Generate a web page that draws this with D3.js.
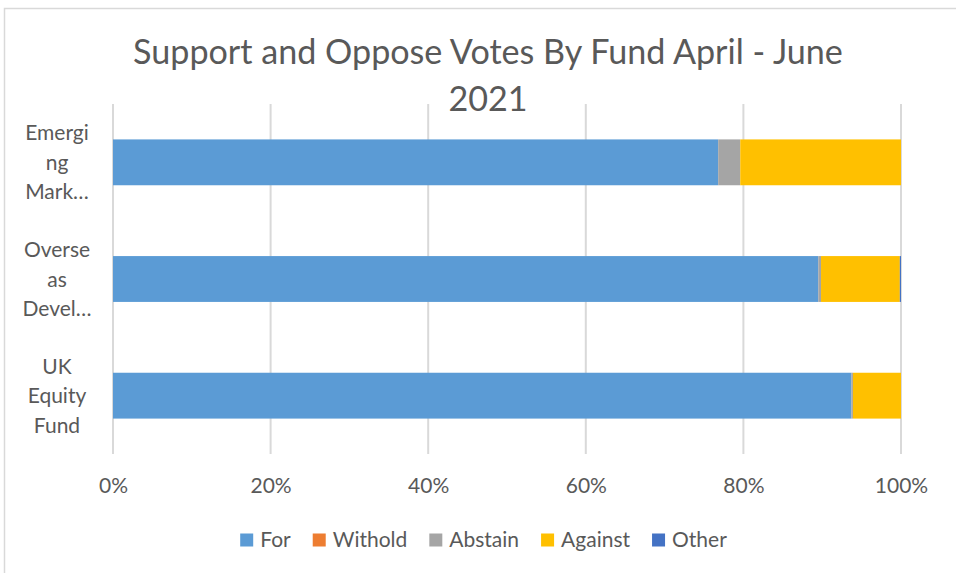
<!DOCTYPE html>
<html>
<head>
<meta charset="utf-8">
<script src="https://cdn.jsdelivr.net/npm/d3@7/dist/d3.min.js"></script>
<style>
  html, body { margin: 0; padding: 0; background: #fff; }
  svg { display: block; }
</style>
</head>
<body>
<div id="chart"></div>
<script>
// Stacked 100% bar chart: vote breakdown per fund

var funds = ['Emerging Markets', 'Overseas Developed', 'UK Equity Fund'];
var fundLabelLines = [['Emergi', 'ng', 'Mark\u2026'], ['Overse', 'as', 'Devel\u2026'], ['UK', 'Equity', 'Fund']];
var seriesNames = ['For', 'Withold', 'Abstain', 'Against', 'Other'];
var seriesColors = ['#5b9bd5', '#ed7d31', '#a5a5a5', '#ffc000', '#4472c4'];

var forVals = [76.8, 89.5, 93.7];
var witholdVals = [0, 0, 0];
var abstainVals = [2.8, 0.35, 0.2];
var againstVals = [20.4, 10.0, 6.1];
var otherVals = [0, 0.15, 0];

var xTicks = [0, 0.2, 0.4, 0.6, 0.8, 1.0];
var titleLines = ['Support and Oppose Votes By Fund April - June', '2021'];

var W = 956, H = 573;
var font = 'Lato, "Open Sans", sans-serif';
var textColor = '#595959';

var svg = d3.select('#chart').append('svg')
    .attr('width', W).attr('height', H);

// chart frame
svg.append('rect')
    .attr('x', 4.5).attr('y', 8.5)
    .attr('width', 970).attr('height', 580)
    .attr('fill', '#fff')
    .attr('stroke', '#d9d9d9').attr('stroke-width', 1.5);

// --- data rows ---
var rows = funds.map(function (f, i) {
    return {
        fund: f,
        For: forVals[i] / 100,
        Withold: witholdVals[i] / 100,
        Abstain: abstainVals[i] / 100,
        Against: againstVals[i] / 100,
        Other: otherVals[i] / 100
    };
});
var stacked = d3.stack().keys(seriesNames)(rows);

// --- scales ---
var x = d3.scaleLinear().domain([0, 1]).range([113, 901]);
var y = d3.scaleBand().domain(funds).range([104, 454]).paddingInner(0.607).paddingOuter(0.3035);

// gridlines
svg.append('g')
    .selectAll('line')
    .data(xTicks)
    .join('line')
    .attr('x1', function (d) { return x(d); })
    .attr('x2', function (d) { return x(d); })
    .attr('y1', 104).attr('y2', 454)
    .attr('stroke', '#d9d9d9').attr('stroke-width', 2);

// bars
svg.append('g')
    .selectAll('g')
    .data(stacked)
    .join('g')
    .attr('fill', function (d, i) { return seriesColors[i]; })
    .selectAll('rect')
    .data(function (d) { return d; })
    .join('rect')
    .attr('x', function (d) { return x(d[0]); })
    .attr('width', function (d) { return Math.max(0, x(d[1]) - x(d[0])); })
    .attr('y', function (d) { return y(d.data.fund); })
    .attr('height', y.bandwidth());

// x axis labels
var xAxis = d3.axisBottom(x).tickValues(xTicks).tickFormat(d3.format('.0%')).tickSize(0).tickPadding(0);
var xg = svg.append('g').attr('transform', 'translate(0,478)').call(xAxis);
xg.select('.domain').remove();
xg.selectAll('text')
    .attr('font-family', font).attr('font-size', 21)
    .attr('fill', textColor).attr('dy', '0.71em');

// category labels (wrapped)
var cat = svg.append('g')
    .selectAll('text')
    .data(funds)
    .join('text')
    .attr('text-anchor', 'middle')
    .attr('font-family', font).attr('font-size', 21)
    .attr('fill', textColor);
cat.each(function (f, i) {
    var lines = fundLabelLines[i];
    var cy = y(f) + y.bandwidth() / 2;
    var lh = 29.5;
    var t = d3.select(this);
    lines.forEach(function (ln, j) {
        t.append('tspan')
            .attr('x', 57)
            .attr('y', cy + (j - (lines.length - 1) / 2) * lh + 7.5)
            .text(ln);
    });
});

// title
var title = svg.append('text')
    .attr('text-anchor', 'middle')
    .attr('font-family', font).attr('font-size', 30)
    .attr('fill', textColor);
title.selectAll('tspan')
    .data(titleLines)
    .join('tspan')
    .attr('x', 488)
    .attr('y', function (d, i) { return 64 + i * 47; })
    .text(function (d) { return d; });
// fit first line to measured width
var firstLen = title.select('tspan').node().getComputedTextLength();
title.attr('font-size', 30 * 710 / firstLen);

// legend
var legend = svg.append('g').attr('transform', 'translate(0,540)');
var items = legend.selectAll('g')
    .data(seriesNames)
    .join('g');
items.append('rect')
    .attr('width', 13).attr('height', 13)
    .attr('y', -6.5)
    .attr('fill', function (d, i) { return seriesColors[i]; });
items.append('text')
    .attr('x', 20).attr('dy', '0.35em')
    .attr('font-family', font).attr('font-size', 21)
    .attr('fill', textColor)
    .text(function (d) { return d; });
var pos = 0, gap = 22, offsets = [];
items.each(function () {
    offsets.push(pos);
    pos += 20 + d3.select(this).select('text').node().getComputedTextLength() + gap;
});
var total = pos - gap;
var start = 483.5 - total / 2;
items.attr('transform', function (d, i) { return 'translate(' + (start + offsets[i]) + ',0)'; });
</script>
</body>
</html>
